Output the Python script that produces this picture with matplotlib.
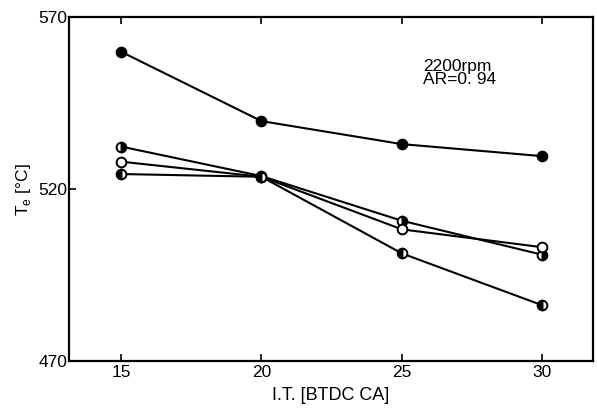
import matplotlib
matplotlib.use("Agg")
import matplotlib.pyplot as plt

# ignition timing [deg BTDC]
it = [15, 20, 25, 30]

# exhaust temperature [degC]
te_filled = [560.0, 539.8, 533.1, 529.6]
te_half_top = [532.4, 523.8, 510.8, 500.9]
te_open = [528.0, 523.6, 508.3, 503.1]
te_half_low = [524.4, 523.6, 501.3, 486.2]

xticks = [15, 20, 25, 30]
yticks = [470, 520, 570]

plt.rcParams['font.family'] = ['Liberation Sans', 'DejaVu Sans']

fig = plt.figure(figsize=(5.97, 4.16), dpi=100)
ax = fig.add_axes([0.1156, 0.1322, 0.8777, 0.8262])

kw = dict(color='black', lw=1.5, markersize=7, markeredgewidth=1.4,
          markeredgecolor='black', markerfacecoloralt='white')
ax.plot(it, te_filled, marker='o', markerfacecolor='black', **kw)
ax.plot(it, te_half_top, marker='o', fillstyle='right', markerfacecolor='black', **kw)
ax.plot(it, te_open, marker='o', markerfacecolor='white', **kw)
ax.plot(it, te_half_low, marker='o', fillstyle='left', markerfacecolor='black', **kw)

ax.set_xlim(13.15, 31.8)
ax.set_ylim(470, 570)
ax.set_xticks(xticks)
ax.set_yticks(yticks)
ax.tick_params(direction='in', top=True, right=False, length=5, width=1.2,
               labelsize=12.5, pad=3)
ax.tick_params(axis='y', pad=1)
for s in ax.spines.values():
    s.set_linewidth(1.6)

ax.set_xlabel('I.T. [BTDC CA]', fontsize=13, labelpad=5)
ax.set_ylabel(r'T$_\mathregular{e}$ [°C]', fontsize=12.5, labelpad=4)

ax.text(0.676, 0.88, '2200rpm\nAR=0. 94', transform=ax.transAxes,
        fontsize=12.5, va='top', ha='left', linespacing=0.85)

fig.savefig('out.png', dpi=100)
